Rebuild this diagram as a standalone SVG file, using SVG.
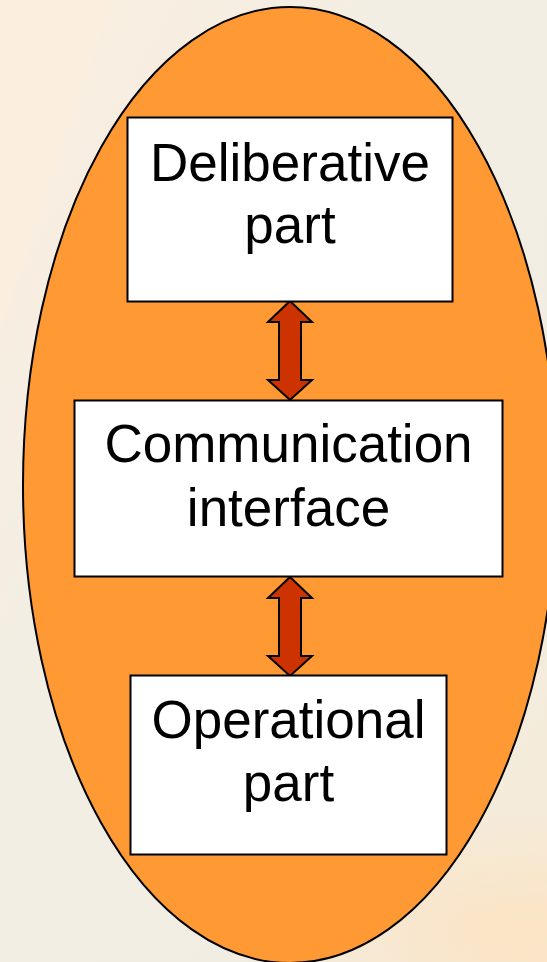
<svg xmlns="http://www.w3.org/2000/svg" width="547" height="962" viewBox="0 0 547 962">
  <defs>
    <linearGradient id="bg" x1="0" y1="0" x2="1" y2="1">
      <stop offset="0" stop-color="#FBEEDF"/>
      <stop offset="0.35" stop-color="#F3EEE3"/>
      <stop offset="0.7" stop-color="#F1EDE2"/>
      <stop offset="1" stop-color="#F6EAD6"/>
    </linearGradient>
    <radialGradient id="glowBR" cx="0.5" cy="0.5" r="0.5">
      <stop offset="0" stop-color="#FCE3C2" stop-opacity="0.9"/>
      <stop offset="1" stop-color="#FCE3C2" stop-opacity="0"/>
    </radialGradient>
    <style>
      .node rect { fill: #FFFFFF; stroke: #000000; stroke-width: 2; }
      .node text { font-family: "Liberation Sans", Arial, sans-serif; font-size: 53px; fill: #000000; text-anchor: middle; }
      .link { fill: #CC3300; stroke: #000000; stroke-width: 2; stroke-linejoin: miter; }
    </style>
  </defs>

  <!-- backdrop -->
  <rect x="0" y="0" width="547" height="962" fill="url(#bg)"/>
  <path d="M0,0 L110,0 L0,330 Z" fill="#FCEEDE" opacity="0.8"/>
  <ellipse cx="520" cy="930" rx="260" ry="120" fill="url(#glowBR)"/>

  <!-- container -->
  <ellipse id="agent" cx="290" cy="485" rx="267" ry="478" fill="#FF9933" stroke="#000000" stroke-width="2"/>

  <!-- connectors -->
  <g id="connectors">
    <path class="link" d="M290,301 L312,322 L301,322 L301,380 L312,380 L290,400 L268,380 L279,380 L279,322 L268,322 Z"/>
    <path class="link" d="M290,577 L312,598 L301,598 L301,656 L312,656 L290,676 L268,656 L279,656 L279,598 L268,598 Z"/>
  </g>

  <g id="deliberative" class="node">
    <rect x="127.5" y="117.5" width="325" height="184"/>
    <text x="290" y="181">Deliberative</text>
    <text x="290" y="243">part</text>
  </g>

  <g id="communication" class="node">
    <rect x="74.5" y="400.5" width="428" height="176"/>
    <text x="288.5" y="462">Communication</text>
    <text x="288.5" y="526">interface</text>
  </g>

  <g id="operational" class="node">
    <rect x="130.5" y="675.5" width="316" height="179"/>
    <text x="288.5" y="738">Operational</text>
    <text x="288.5" y="801">part</text>
  </g>
</svg>
